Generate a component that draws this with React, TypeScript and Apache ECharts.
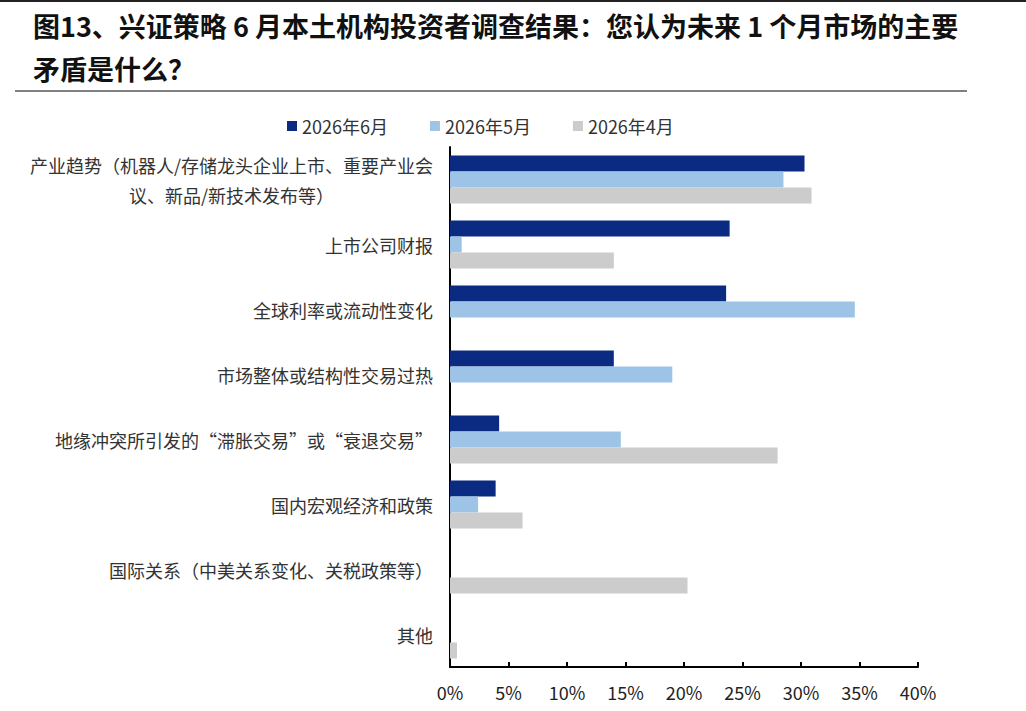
import React, { useEffect, useRef } from "react";
import * as echarts from "echarts";

const categories = [
  "产业趋势（机器人/存储龙头企业上市、重要产业会\n议、新品/新技术发布等）",
  "上市公司财报",
  "全球利率或流动性变化",
  "市场整体或结构性交易过热",
  "地缘冲突所引发的“滞胀交易”或“衰退交易”",
  "国内宏观经济和政策",
  "国际关系（中美关系变化、关税政策等）",
  "其他",
];

const seriesNames = ["2026年6月", "2026年5月", "2026年4月"];

// percentages
const june = [30.3, 23.9, 23.6, 14.0, 4.2, 3.9, 0, 0];
const may = [28.5, 1.0, 34.6, 19.0, 14.6, 2.4, 0, 0];
const april = [30.9, 14.0, 0, 0, 28.0, 6.2, 20.3, 0.6];

const xTicks = [0, 5, 10, 15, 20, 25, 30, 35, 40];

const colors = ["#0B2B82", "#9DC3E6", "#CCCCCC"];

const titleText =
  "图13、兴证策略 6 月本土机构投资者调查结果：您认为未来 1 个月市场的主要\n矛盾是什么？";

export default function App() {
  const ref = useRef<HTMLDivElement>(null);

  useEffect(() => {
    if (!ref.current) return;
    const chart = echarts.init(ref.current, undefined, { renderer: "svg" });
    const values = [june, may, april];
    chart.setOption({
      animation: false,
      backgroundColor: "#ffffff",
      textStyle: { fontFamily: "'Noto Sans CJK SC', 'Noto Sans', sans-serif" },
      graphic: [
        {
          type: "rect",
          shape: { x: 0, y: 0, width: 1026, height: 2 },
          style: { fill: "#222" },
        },
        {
          type: "text",
          left: 33,
          top: 4,
          style: {
            text: titleText,
            font: "bold 27px 'Noto Sans CJK SC', sans-serif",
            lineHeight: 43,
            fill: "#111",
          },
        },
        {
          type: "rect",
          shape: { x: 15, y: 90, width: 952, height: 2 },
          style: { fill: "#808080" },
        },
      ],
      legend: {
        data: seriesNames,
        left: 282,
        top: 112,
        icon: "rect",
        itemWidth: 10,
        itemHeight: 10,
        itemGap: 42,
        textStyle: { fontSize: 18, color: "#333" },
      },
      grid: { left: 450, right: 108, top: 147, bottom: 44, containLabel: false },
      xAxis: {
        type: "value",
        min: xTicks[0],
        max: xTicks[xTicks.length - 1],
        interval: 5,
        axisLine: { show: true, lineStyle: { color: "#000", width: 2 } },
        axisTick: { show: true, inside: true, length: 5, lineStyle: { color: "#000", width: 2 } },
        splitLine: { show: false },
        axisLabel: {
          formatter: (v: number) => `${v}%`,
          fontSize: 18,
          color: "#222",
          margin: 16,
        },
      },
      yAxis: {
        type: "category",
        inverse: true,
        data: categories,
        axisLine: { show: true, lineStyle: { color: "#000", width: 2 } },
        axisTick: { show: false },
        axisLabel: {
          margin: 17,
          formatter: (v: string) =>
            v
              .split("\n")
              .map((s) => `{c|${s}}`)
              .join("\n"),
          rich: {
            c: { align: "center", fontSize: 18, lineHeight: 30, color: "#333" },
          },
        },
      },
      series: seriesNames.map((name, i) => ({
        name,
        type: "bar",
        data: values[i],
        barWidth: 16,
        barGap: "0%",
        itemStyle: { color: colors[i] },
      })),
    });
    return () => chart.dispose();
  }, []);

  return (
    <div
      ref={ref}
      style={{ position: "fixed", left: 0, top: 0, width: 1026, height: 711 }}
    />
  );
}
